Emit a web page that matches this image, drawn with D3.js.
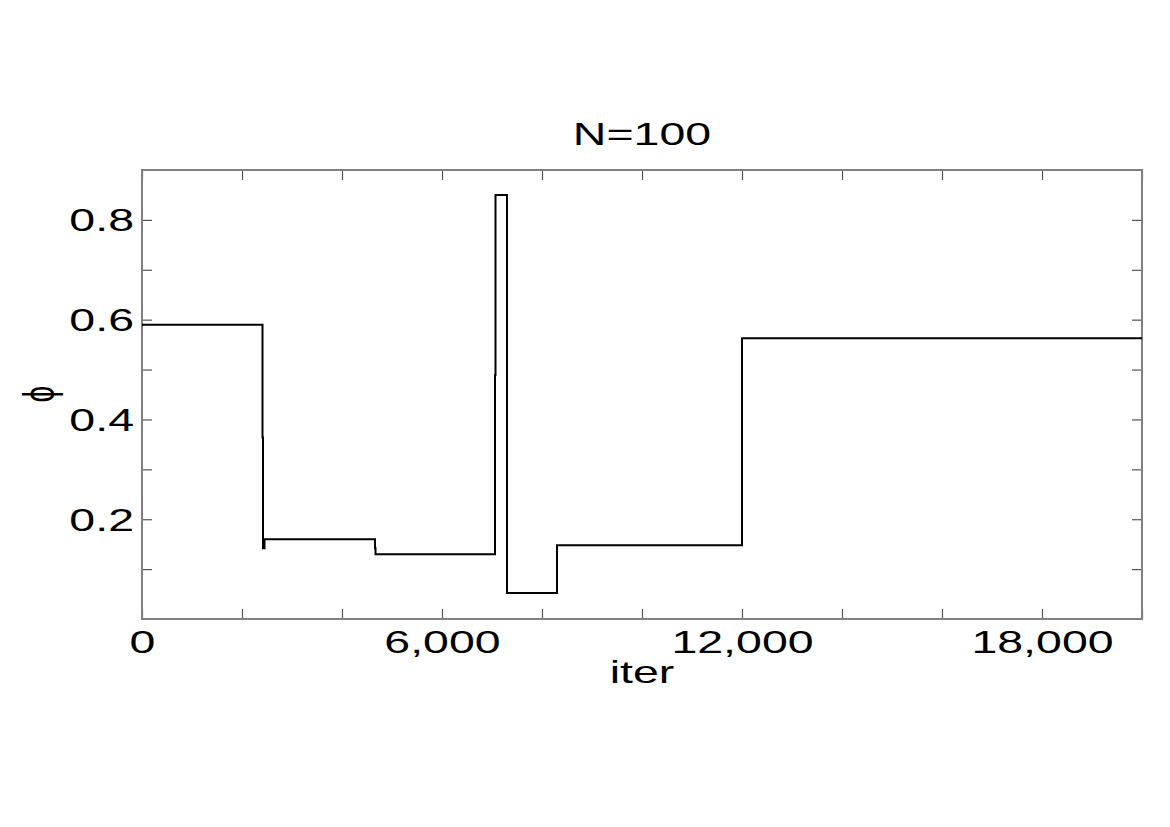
<!DOCTYPE html>
<html>
<head>
<meta charset="utf-8">
<script src="https://cdn.jsdelivr.net/npm/d3@7"></script>
<style>
  body { margin: 0; background: #fff; }
  text { font-family: "Liberation Sans", Arial, sans-serif; }
</style>
</head>
<body>
<svg id="chart" width="1170" height="827"></svg>
<script>
// step data: phi holds from each iteration until the next one
var iters = [0, 2410, 2420, 2450, 4660, 4670, 7060, 7070, 7300, 8300, 12000, 20000];
var phis  = [0.59, 0.364, 0.142, 0.16, 0.142, 0.13, 0.489, 0.85, 0.052, 0.148, 0.563, 0.563];

var xTicks = d3.range(0, 20001, 2000),
    xLabels = [0, 6000, 12000, 18000],
    yTicks = [0.1, 0.2, 0.3, 0.4, 0.5, 0.6, 0.7, 0.8],
    yLabels = [0.2, 0.4, 0.6, 0.8];

var title = "N=100", xTitle = "iter", yTitle = "\u03d5";

var svg = d3.select("#chart"),
    pLeft = 142, pRight = 1142, pTop = 170, pBottom = 619,
    stretch = 1.5;

var x = d3.scaleLinear().domain([0, 20000]).range([pLeft, pRight]),
    y = d3.scaleLinear().domain([0, 0.9]).range([pBottom, pTop]);

var data = iters.map(function(d, i) { return {it: d, phi: phis[i]}; });

var fmt = d3.format(",");

// axes (ticks point inward)
var gx = svg.append("g")
    .attr("transform", "translate(0," + pBottom + ")")
    .call(d3.axisBottom(x).tickValues(xTicks).tickSizeInner(-10).tickSizeOuter(0)
      .tickFormat(function(d) { return xLabels.indexOf(d) >= 0 ? fmt(d) : ""; }));

svg.append("g")
    .attr("transform", "translate(0," + pTop + ")")
    .call(d3.axisTop(x).tickValues(xTicks).tickSizeInner(-10).tickSizeOuter(0).tickFormat(""));

var gy = svg.append("g")
    .attr("transform", "translate(" + pLeft + ",0)")
    .call(d3.axisLeft(y).tickValues(yTicks).tickSizeInner(-10).tickSizeOuter(0)
      .tickFormat(function(d) { return yLabels.indexOf(d) >= 0 ? d3.format(".1f")(d) : ""; }));

svg.append("g")
    .attr("transform", "translate(" + pRight + ",0)")
    .call(d3.axisRight(y).tickValues(yTicks).tickSizeInner(-10).tickSizeOuter(0).tickFormat(""));

svg.selectAll(".domain").remove();
svg.selectAll(".tick line").attr("stroke", "#555").attr("stroke-width", 1.2);

gx.selectAll("text")
    .attr("y", 0).attr("dy", 0)
    .attr("font-size", 31).attr("fill", "#000")
    .attr("transform", "translate(0,34) scale(" + stretch + ",1)");

gy.selectAll("text")
    .attr("x", 0).attr("dy", 0)
    .attr("font-size", 31).attr("fill", "#000")
    .attr("text-anchor", "end")
    .attr("transform", "translate(-8,11) scale(" + stretch + ",1)");

// frame
svg.append("rect")
    .attr("x", pLeft).attr("y", pTop)
    .attr("width", pRight - pLeft).attr("height", pBottom - pTop)
    .attr("fill", "none").attr("stroke", "#808080").attr("stroke-width", 2);

// the line
var line = d3.line()
    .x(function(d) { return x(d.it); })
    .y(function(d) { return y(d.phi); })
    .curve(d3.curveStepAfter);

svg.append("path")
    .datum(data)
    .attr("d", line)
    .attr("fill", "none")
    .attr("stroke", "#000")
    .attr("stroke-width", 2);

// titles
svg.append("text")
    .attr("transform", "translate(" + ((pLeft + pRight) / 2) + ",145) scale(" + stretch + ",1)")
    .attr("text-anchor", "middle")
    .attr("font-size", 31)
    .text(title);

svg.append("text")
    .attr("transform", "translate(" + ((pLeft + pRight) / 2) + ",683) scale(" + stretch + ",1)")
    .attr("text-anchor", "middle")
    .attr("font-size", 31)
    .text(xTitle);

svg.append("text")
    .attr("transform", "translate(38,394) scale(" + stretch + ",1) rotate(-90)")
    .attr("text-anchor", "middle")
    .attr("dominant-baseline", "central")
    .attr("font-size", 30)
    .attr("font-family", "'DejaVu Sans', sans-serif")
    .text(yTitle);
</script>
</body>
</html>
